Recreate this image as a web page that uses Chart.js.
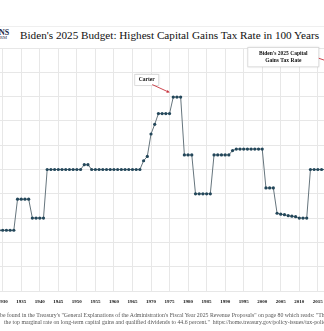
<!DOCTYPE html>
<html>
<head>
<meta charset="utf-8">
<script src="https://cdn.jsdelivr.net/npm/chart.js@4.4.1/dist/chart.umd.min.js"></script>
<style>
  html, body { margin: 0; padding: 0; width: 324px; height: 331px; overflow: hidden; background: #fff; }
  body { position: relative; }
  #header-rule { position: absolute; left: 0; top: 26px; width: 324px; height: 1px; background: #efefef; }
  #logo-top { position: absolute; left: -1px; top: 29px; font: bold 8px "Liberation Serif", serif; line-height: 1; color: #1c2b4a; }
  #logo-bottom { position: absolute; left: 0; top: 36px; font: 4.5px "Liberation Serif", serif; line-height: 1; color: #1c2b4a; }
  #title { position: absolute; left: 20px; top: 30px; font: 11.2px "Liberation Serif", serif; line-height: 1; color: #111; white-space: nowrap; }
  #chart-wrap { position: absolute; left: -38px; top: 40px; width: 401px; height: 273px; }
  .note { position: absolute; font: 5.8px "Liberation Serif", serif; line-height: 1; color: #555; white-space: nowrap; }
</style>
</head>
<body>
<div id="header-rule"></div>
<div id="logo-top">NS</div>
<div id="logo-bottom">RM</div>
<div id="title">Biden's 2025 Budget: Highest Capital Gains Tax Rate in 100 Years</div>
<div id="chart-wrap"><canvas id="rate-chart" width="401" height="273"></canvas></div>
<div class="note" style="left:0; top:313px;">be found in the Treasury's "General Explanations of the Administration's Fiscal Year 2025 Revenue Proposals" on page 80 which reads: "The Budget would</div>
<div class="note" style="left:4px; top:320px;">the top marginal rate on long-term capital gains and qualified dividends to 44.6 percent."&nbsp; https://home.treasury.gov/policy-issues/tax-policy/revenue-proposals</div>

<script>
// Years and top capital gains rates (%)
const years = [
    1922, 1923, 1924, 1925, 1926, 1927, 1928, 1929,
    1930, 1931, 1932, 1933, 1934, 1935, 1936, 1937, 1938, 1939,
    1940, 1941, 1942, 1943, 1944, 1945, 1946, 1947, 1948, 1949,
    1950, 1951, 1952, 1953, 1954, 1955, 1956, 1957, 1958, 1959,
    1960, 1961, 1962, 1963, 1964, 1965, 1966, 1967, 1968, 1969,
    1970, 1971, 1972, 1973, 1974, 1975, 1976, 1977, 1978, 1979,
    1980, 1981, 1982, 1983, 1984, 1985, 1986, 1987, 1988, 1989,
    1990, 1991, 1992, 1993, 1994, 1995, 1996, 1997, 1998, 1999,
    2000, 2001, 2002, 2003, 2004, 2005, 2006, 2007, 2008, 2009,
    2010, 2011, 2012, 2013, 2014, 2015, 2016, 2017, 2018, 2019,
    2020, 2021, 2022, 2023, 2024, 2025
];
const topRates = [
    12.5, 12.5, 12.5, 12.5, 12.5, 12.5, 12.5, 12.5,
    12.5, 12.5, 12.5, 12.5, 18.9, 18.9, 18.9, 18.9, 15, 15,
    15, 15, 25, 25, 25, 25, 25, 25, 25, 25,
    25, 25, 26, 26, 25, 25, 25, 25, 25, 25,
    25, 25, 25, 25, 25, 25, 25, 25, 26.8, 27.7,
    32.3, 34.3, 36.5, 36.5, 36.5, 36.5, 39.9, 39.9, 39.9, 28,
    28, 28, 20, 20, 20, 20, 20, 28, 28, 28,
    28, 28, 28.9, 29.2, 29.2, 29.2, 29.2, 29.2, 29.2, 29.2,
    29.2, 21.2, 21.2, 21.2, 16.0, 15.8, 15.7, 15.5, 15.4, 15.3,
    15.0, 15.0, 15.0, 25, 25, 25, 25, 25, 25, 25,
    25, 25, 25, 25, 25, 44.6
];
const tickYears = [1925, 1930, 1935, 1940, 1945, 1950, 1955, 1960, 1965, 1970,
                   1975, 1980, 1985, 1990, 1995, 2000, 2005, 2010, 2015, 2020];

const gridColor = '#e7e7e7';

// Boxed notes with a red arrow pointing at a data point
const calloutPlugin = {
    id: 'callouts',
    afterDatasetsDraw(chart) {
        const ctx = chart.ctx;
        const xs = chart.scales.x;
        const ys = chart.scales.y;
        const notes = [
            { year: 1976, rate: 39.9, lines: ['Carter'], box: [-38.5, -22.7, 24, 11], from: [-21, -12.5] },
            { year: 2025, rate: 44.6, lines: ["Biden's 2025 Capital", 'Gains Tax Rate'], box: [-107.1, -26.8, 71, 19.4], from: [-36.1, -16] }
        ];

        ctx.save();
        notes.forEach(function(n) {
            const px = xs.getPixelForValue(n.year);
            const py = ys.getPixelForValue(n.rate);
            const bx = px + n.box[0], by = py + n.box[1];

            // box
            ctx.shadowColor = 'rgba(0,0,0,0.12)';
            ctx.shadowBlur = 2;
            ctx.fillStyle = '#fff';
            ctx.fillRect(bx, by, n.box[2], n.box[3]);
            ctx.shadowBlur = 0;
            ctx.strokeStyle = '#d6d6d6';
            ctx.lineWidth = 0.8;
            ctx.strokeRect(bx, by, n.box[2], n.box[3]);

            // text
            ctx.fillStyle = '#111';
            ctx.font = 'bold 5.5px "Liberation Serif", serif';
            ctx.textAlign = 'center';
            ctx.textBaseline = 'middle';
            const step = 7;
            const top = by + n.box[3] / 2 - (n.lines.length - 1) * step / 2;
            n.lines.forEach(function(t, i) {
                ctx.fillText(t, bx + n.box[2] / 2, top + i * step);
            });

            // arrow
            const x0 = px + n.from[0], y0 = py + n.from[1];
            const x1 = px - 3.5, y1 = py - 4.5;
            const ang = Math.atan2(y1 - y0, x1 - x0);
            ctx.strokeStyle = '#c8323c';
            ctx.fillStyle = '#c8323c';
            ctx.lineWidth = 0.9;
            ctx.beginPath();
            ctx.moveTo(x0, y0);
            ctx.lineTo(x1 - 2 * Math.cos(ang), y1 - 2 * Math.sin(ang));
            ctx.stroke();
            ctx.beginPath();
            ctx.moveTo(x1, y1);
            ctx.lineTo(x1 - 3.5 * Math.cos(ang - 0.45), y1 - 3.5 * Math.sin(ang - 0.45));
            ctx.lineTo(x1 - 3.5 * Math.cos(ang + 0.45), y1 - 3.5 * Math.sin(ang + 0.45));
            ctx.closePath();
            ctx.fill();
        });
        ctx.restore();
    }
};

const ctx = document.getElementById('rate-chart').getContext('2d');

new Chart(ctx, {
    type: 'line',
    data: {
        datasets: [
            {
                label: 'Top capital gains tax rate',
                data: years.map(function(yr, i) { return { x: yr, y: topRates[i] }; }),
                borderColor: '#66757d',
                borderWidth: 1,
                pointRadius: 1.6,
                pointBorderWidth: 0,
                pointBackgroundColor: '#23475a',
                pointBorderColor: '#23475a',
                tension: 0,
                fill: false
            }
        ]
    },
    options: {
        responsive: false,
        animation: false,
        layout: { padding: { top: 8, left: 0, right: 0, bottom: 0 } },
        plugins: {
            legend: { display: false },
            tooltip: { enabled: false }
        },
        scales: {
            x: {
                type: 'linear',
                min: 1920.1,
                max: 2026.1,
                afterBuildTicks: function(scale) {
                    scale.ticks = tickYears.map(function(v) { return { value: v }; });
                },
                ticks: {
                    autoSkip: false,
                    maxRotation: 0,
                    padding: 8,
                    color: '#111',
                    font: { family: 'Liberation Serif', size: 5, weight: 'bold' },
                    callback: function(value) { return String(value); }
                },
                grid: { color: gridColor, drawTicks: false },
                border: { display: false }
            },
            y: {
                min: 0,
                max: 50,
                ticks: { display: false, stepSize: 5 },
                grid: { color: gridColor, drawTicks: false },
                border: { display: false }
            }
        }
    },
    plugins: [calloutPlugin]
});
</script>
</body>
</html>
